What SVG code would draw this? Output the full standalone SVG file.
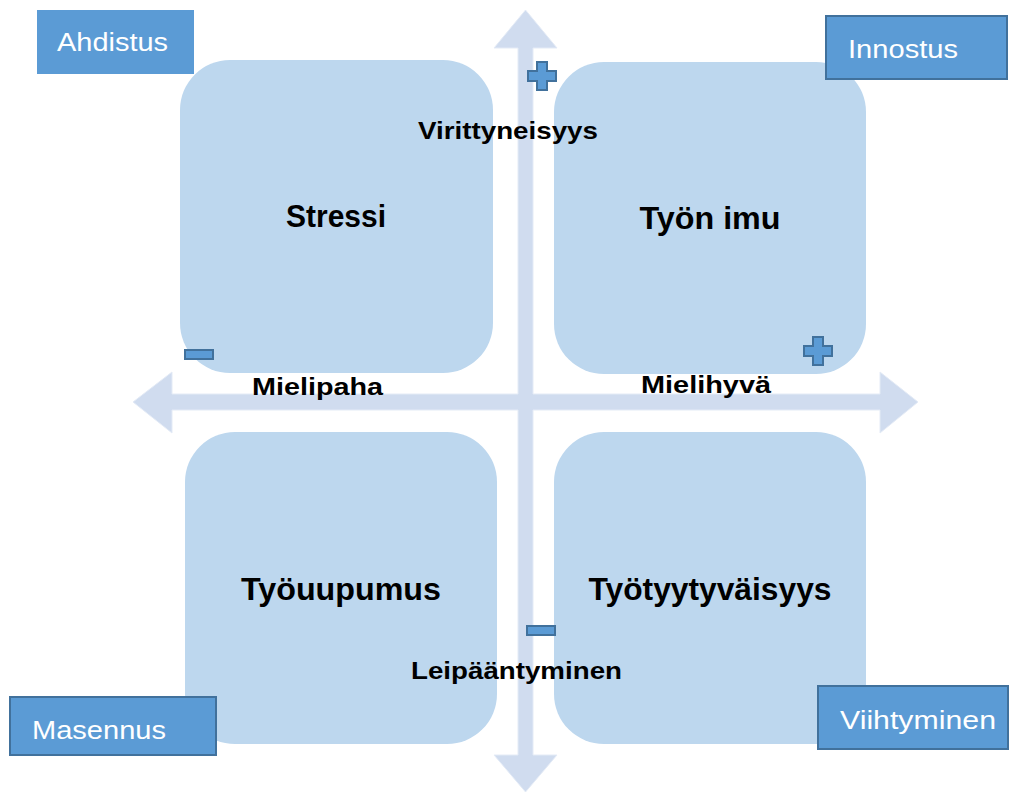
<svg xmlns="http://www.w3.org/2000/svg" width="1014" height="792" viewBox="0 0 1014 792">
<style>
.quad{fill:#bdd7ee}
.axis{fill:#d0dcef;stroke:#e4ebf6;stroke-width:1}
.sign{fill:#5b9bd5;stroke:#41719c;stroke-width:2}
.corner{fill:#5b9bd5;stroke:#41719c;stroke-width:2}
.ctext{font-family:"Liberation Sans",Arial,sans-serif;font-size:26px;fill:#ffffff}
.big{font-family:"Liberation Sans",Arial,sans-serif;font-size:31px;font-weight:bold;fill:#000;text-anchor:middle}
.lab{font-family:"Liberation Sans",Arial,sans-serif;font-size:24px;font-weight:bold;fill:#000}
</style>
<defs>
<path id="plus" d="M-5,-14 H5 V-5 H14 V5 H5 V14 H-5 V5 H-14 V-5 H-5 Z"/>
</defs>
<rect width="1014" height="792" fill="#ffffff"/>
<g id="ahdistus">
<rect x="37" y="10" width="157" height="64" fill="#5b9bd5"/>
<text class="ctext" x="57" y="51" textLength="111" lengthAdjust="spacingAndGlyphs">Ahdistus</text>
</g>
<g id="connectors">
<path class="axis" d="M525.5,10 L557,48 L533,48 L533,394 L880,394 L880,372 L918,402 L880,433 L880,410 L533,410 L533,755 L557,755 L525.5,792 L494,755 L518,755 L518,410 L172,410 L172,433 L133,402 L172,372 L172,394 L518,394 L518,48 L494,48 Z"/>
</g>
<g id="stressi">
<rect class="quad" x="180" y="60" width="313" height="313" rx="50"/>
<text class="big" x="336" y="227" textLength="100" lengthAdjust="spacingAndGlyphs">Stressi</text>
</g>
<g id="tyon-imu">
<rect class="quad" x="554" y="62" width="312" height="312" rx="50"/>
<text class="big" x="710" y="229" textLength="141" lengthAdjust="spacingAndGlyphs">Työn imu</text>
</g>
<g id="tyouupumus">
<rect class="quad" x="185" y="432" width="312" height="312" rx="50"/>
<text class="big" x="341" y="600" textLength="200" lengthAdjust="spacingAndGlyphs">Työuupumus</text>
</g>
<g id="tyotyytyvaisyys">
<rect class="quad" x="554" y="432" width="312" height="312" rx="50"/>
<text class="big" x="710" y="600" textLength="243" lengthAdjust="spacingAndGlyphs">Työtyytyväisyys</text>
</g>
<g id="signs">
<use href="#plus" class="sign" x="542" y="76"/>
<use href="#plus" class="sign" x="818" y="351"/>
<rect class="sign" x="185" y="350" width="28" height="9"/>
<rect class="sign" x="527" y="626" width="28" height="9"/>
</g>
<g id="axis-labels">
<text class="lab" x="418" y="139" textLength="180" lengthAdjust="spacingAndGlyphs">Virittyneisyys</text>
<text class="lab" x="252" y="395" textLength="131" lengthAdjust="spacingAndGlyphs">Mielipaha</text>
<text class="lab" x="641" y="393" textLength="130" lengthAdjust="spacingAndGlyphs">Mielihyvä</text>
<text class="lab" x="411" y="679" textLength="211" lengthAdjust="spacingAndGlyphs">Leipääntyminen</text>
</g>
<g id="innostus">
<rect class="corner" x="826" y="16" width="181" height="63"/>
<text class="ctext" x="848" y="58" textLength="110" lengthAdjust="spacingAndGlyphs">Innostus</text>
</g>
<g id="masennus">
<rect class="corner" x="10" y="697" width="206" height="58"/>
<text class="ctext" x="32" y="739" textLength="134" lengthAdjust="spacingAndGlyphs">Masennus</text>
</g>
<g id="viihtyminen">
<rect class="corner" x="818" y="686" width="190" height="63"/>
<text class="ctext" x="840" y="729" textLength="156" lengthAdjust="spacingAndGlyphs">Viihtyminen</text>
</g>
</svg>
